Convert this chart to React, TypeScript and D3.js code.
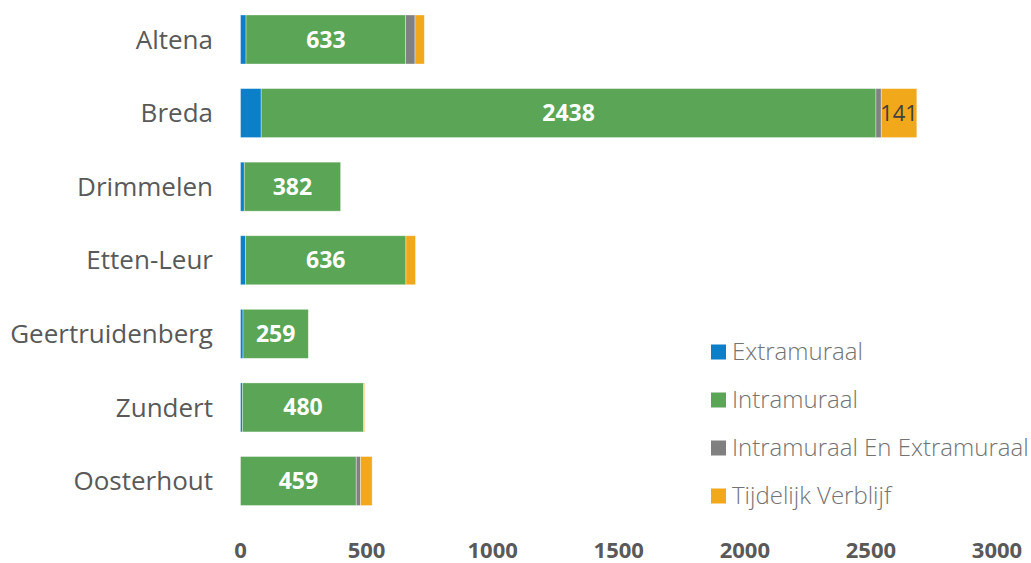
import React from "react";
import * as d3 from "d3";

const categories = ["Altena", "Breda", "Drimmelen", "Etten-Leur", "Geertruidenberg", "Zundert", "Oosterhout"];
const seriesNames = ["Extramuraal", "Intramuraal", "Intramuraal En Extramuraal", "Tijdelijk Verblijf"];
const extramuraal = [22, 82, 15, 20, 10, 8, 0];
const intramuraal = [633, 2438, 382, 636, 259, 480, 459];
const intraExtra = [37, 21, 0, 0, 0, 0, 17];
const tijdelijk = [37, 141, 0, 38, 0, 4, 46];
const xTicks = [0, 500, 1000, 1500, 2000, 2500, 3000];
const colors = ["#0b7fc7", "#5aa556", "#808080", "#f1a81a"];

const W = 1031;
const H = 563;
const FONT = "'Open Sans', 'Noto Sans', sans-serif";

export default function App() {
  const rows = categories.map((c, i) => ({
    cat: c,
    Extramuraal: extramuraal[i],
    Intramuraal: intramuraal[i],
    "Intramuraal En Extramuraal": intraExtra[i],
    "Tijdelijk Verblijf": tijdelijk[i],
  }));
  const stack = d3.stack<any>().keys(seriesNames)(rows);
  const x = d3.scaleLinear().domain([0, 3000]).range([240.5, 997]);
  const y = d3.scaleBand().domain(categories).range([2.7, 517.8]).paddingInner(0.334).paddingOuter(0.167);

  return (
    <svg width={W} height={H} style={{ position: "absolute", left: 0, top: 0, background: "#fff" }} fontFamily={FONT}>
      {stack.map((layer, si) => (
        <g key={seriesNames[si]}>
          {layer.map((d, i) => {
            const w = x(d[1]) - x(d[0]);
            if (w <= 0) return null;
            return (
              <rect
                key={i}
                x={x(d[0])}
                y={y(categories[i])!}
                width={w}
                height={y.bandwidth()}
                fill={colors[si]}
                stroke="#ffffff"
                strokeOpacity={0.45}
                strokeWidth={0.8}
              />
            );
          })}
        </g>
      ))}
      {stack[1].map((d, i) => (
        <text
          key={"l" + i}
          x={(x(d[0]) + x(d[1])) / 2}
          y={y(categories[i])! + y.bandwidth() / 2}
          dy="0.35em"
          textAnchor="middle"
          fill="#ffffff"
          fontWeight={700}
          fontSize={23}
        >
          {intramuraal[i]}
        </text>
      ))}
      {stack[3].map((d, i) =>
        tijdelijk[i] > 100 ? (
          <text
            key={"t" + i}
            x={(x(d[0]) + x(d[1])) / 2}
            y={y(categories[i])! + y.bandwidth() / 2}
            dy="0.35em"
            textAnchor="middle"
            fill="#404040"
            fontSize={22}
          >
            {tijdelijk[i]}
          </text>
        ) : null
      )}
      {categories.map((c) => (
        <text
          key={c}
          x={213}
          y={y(c)! + y.bandwidth() / 2}
          dy="0.35em"
          textAnchor="end"
          fill="#595959"
          fontSize={26}
        >
          {c}
        </text>
      ))}
      {xTicks.map((t) => (
        <text key={t} x={x(t)} y={550} dy="0.35em" textAnchor="middle" fill="#595959" fontWeight={700} fontSize={22}>
          {t}
        </text>
      ))}
      {seriesNames.map((s, i) => {
        const cy = 352 + i * 48;
        return (
          <g key={s}>
            <rect x={711} y={cy - 7.5} width={15} height={15} fill={colors[i]} />
            <text x={732} y={cy} dy="0.35em" fill="#737373" fontSize={24} fontWeight={300}>
              {s}
            </text>
          </g>
        );
      })}
    </svg>
  );
}
